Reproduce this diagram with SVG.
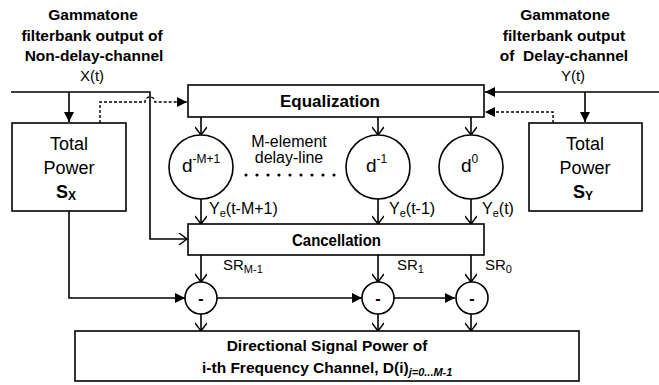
<svg xmlns="http://www.w3.org/2000/svg" width="659" height="385" viewBox="0 0 659 385">
<defs>
<marker id="fa" markerWidth="12" markerHeight="12" refX="10" refY="5" orient="auto" markerUnits="userSpaceOnUse">
<path d="M0,0 L10,5 L0,10 Z" fill="#000"/>
</marker>
<marker id="oa" markerWidth="12" markerHeight="12" refX="9" refY="6" orient="auto" markerUnits="userSpaceOnUse">
<path d="M1,0 L9,6 L1,12" fill="none" stroke="#000" stroke-width="1.4"/>
</marker>
<style>
.box{fill:#fff;stroke:#000;stroke-width:1.6}
.ln{fill:none;stroke:#000;stroke-width:1.6}
.dot{fill:none;stroke:#000;stroke-width:1.4;stroke-dasharray:3,2}
text{font-family:"Liberation Sans",Arial,sans-serif;fill:#000}
.h{font-size:15.5px;font-weight:bold;text-anchor:middle}
.r{font-size:15px}
.tp{font-size:18px;text-anchor:middle}
.b{font-weight:bold}
</style>
</defs>
<rect width="659" height="385" fill="#fff"/>

<g id="heading-left">
<text class="h" x="93" y="20">Gammatone</text>
<text class="h" x="92" y="41">filterbank output of</text>
<text class="h" x="94" y="61">Non-delay-channel</text>
<text class="r" x="92" y="81" text-anchor="middle">X(t)</text>
</g>
<g id="heading-right">
<text class="h" x="565" y="20">Gammatone</text>
<text class="h" x="564" y="41">filterbank output</text>
<text class="h" x="564" y="61" xml:space="preserve">of  Delay-channel</text>
<text class="r" x="573" y="81" text-anchor="middle">Y(t)</text>
</g>

<g id="connectors">
<polyline class="ln" points="11,92 150,92 150,239 187,239" marker-end="url(#oa)"/>
<line class="ln" x1="69" y1="92" x2="69" y2="122" marker-end="url(#fa)"/>
<path class="dot" d="M100,123 V102 H145 A5,5 0 0 1 155,102 H187" marker-end="url(#fa)"/>
<line class="ln" x1="659" y1="92" x2="485" y2="92" marker-end="url(#fa)"/>
<line class="ln" x1="585" y1="92" x2="585" y2="122" marker-end="url(#fa)"/>
<path class="dot" d="M553,123 V112 H485" marker-end="url(#fa)"/>
<line class="ln" x1="201" y1="117" x2="201" y2="135" marker-end="url(#oa)"/>
<line class="ln" x1="378" y1="117" x2="378" y2="135" marker-end="url(#oa)"/>
<line class="ln" x1="471" y1="117" x2="471" y2="135" marker-end="url(#oa)"/>
<line class="ln" x1="201" y1="199" x2="201" y2="224" marker-end="url(#oa)"/>
<line class="ln" x1="378" y1="199" x2="378" y2="224" marker-end="url(#oa)"/>
<line class="ln" x1="471" y1="199" x2="471" y2="224" marker-end="url(#oa)"/>
<line class="ln" x1="201" y1="255" x2="201" y2="282" marker-end="url(#oa)"/>
<line class="ln" x1="378" y1="255" x2="378" y2="282" marker-end="url(#oa)"/>
<line class="ln" x1="471" y1="255" x2="471" y2="282" marker-end="url(#oa)"/>
<polyline class="ln" points="69,211 69,298 185,298" marker-end="url(#fa)"/>
<line class="ln" x1="217" y1="298" x2="362" y2="298" marker-end="url(#fa)"/>
<line class="ln" x1="394" y1="298" x2="455" y2="298" marker-end="url(#fa)"/>
<line class="ln" x1="201" y1="314" x2="201" y2="331" marker-end="url(#oa)"/>
<line class="ln" x1="378" y1="314" x2="378" y2="331" marker-end="url(#oa)"/>
<line class="ln" x1="471" y1="314" x2="471" y2="331" marker-end="url(#oa)"/>
<text x="209" y="214" font-size="16">Y<tspan font-size="11" dy="3">e</tspan><tspan dy="-3">(t-M+1)</tspan></text>
<text x="389" y="214" font-size="16">Y<tspan font-size="11" dy="3">e</tspan><tspan dy="-3">(t-1)</tspan></text>
<text x="482" y="214" font-size="16">Y<tspan font-size="11" dy="3">e</tspan><tspan dy="-3">(t)</tspan></text>
<text x="223" y="270" font-size="15">SR<tspan font-size="11" dy="3">M-1</tspan></text>
<text x="397" y="270" font-size="15">SR<tspan font-size="11" dy="3">1</tspan></text>
<text x="485" y="270" font-size="15">SR<tspan font-size="11" dy="3">0</tspan></text>
</g>

<g id="total-power-x">
<rect class="box" x="12" y="123" width="114" height="88"/>
<text class="tp" x="69" y="150">Total</text>
<text class="tp" x="69" y="174">Power</text>
<text class="tp b" x="66" y="198">S<tspan font-size="12" dy="2">X</tspan></text>
</g>
<g id="total-power-y">
<rect class="box" x="529" y="123" width="113" height="88"/>
<text class="tp" x="585" y="150">Total</text>
<text class="tp" x="585" y="174">Power</text>
<text class="tp b" x="583" y="198">S<tspan font-size="12" dy="2">Y</tspan></text>
</g>
<g id="equalization">
<rect class="box" x="188" y="85" width="296" height="32"/>
<text x="280" y="107" font-size="16" font-weight="bold" textLength="100" lengthAdjust="spacingAndGlyphs">Equalization</text>
</g>
<g id="delay-m1">
<circle class="box" cx="201" cy="167" r="32"/>
<text x="182" y="172" font-size="19">d<tspan font-size="12" dy="-9">-M+1</tspan></text>
</g>
<g id="delay-line-label">
<text x="289" y="147" font-size="16" text-anchor="middle">M-element</text>
<text x="289" y="163" font-size="16" text-anchor="middle">delay-line</text>
<g fill="#000">
<circle cx="246" cy="175" r="1.6"/><circle cx="257" cy="175" r="1.6"/><circle cx="268" cy="175" r="1.6"/>
<circle cx="279" cy="175" r="1.6"/><circle cx="290" cy="175" r="1.6"/><circle cx="301" cy="175" r="1.6"/>
<circle cx="312" cy="175" r="1.6"/><circle cx="323" cy="175" r="1.6"/><circle cx="334" cy="175" r="1.6"/>
</g>
</g>
<g id="delay-1">
<circle class="box" cx="378" cy="167" r="32"/>
<text x="366" y="172" font-size="19">d<tspan font-size="12" dy="-9">-1</tspan></text>
</g>
<g id="delay-0">
<circle class="box" cx="471" cy="167" r="32"/>
<text x="461" y="172" font-size="19">d<tspan font-size="12" dy="-9">0</tspan></text>
</g>
<g id="cancellation">
<rect class="box" x="188" y="224" width="296" height="31"/>
<text x="292" y="246" font-size="16" font-weight="bold" textLength="89" lengthAdjust="spacingAndGlyphs">Cancellation</text>
</g>
<g id="minus-m1">
<circle class="box" cx="201" cy="298" r="16"/>
<text x="201" y="304" font-size="16" font-weight="bold" text-anchor="middle">-</text>
</g>
<g id="minus-1">
<circle class="box" cx="378" cy="298" r="16"/>
<text x="378" y="304" font-size="16" font-weight="bold" text-anchor="middle">-</text>
</g>
<g id="minus-0">
<circle class="box" cx="472" cy="298" r="16"/>
<text x="472" y="304" font-size="16" font-weight="bold" text-anchor="middle">-</text>
</g>
<g id="directional">
<rect class="box" x="75" y="331" width="504" height="50"/>
<text x="327" y="351" font-size="15.5" font-weight="bold" text-anchor="middle">Directional Signal Power of</text>
<text x="202" y="373" font-size="15.5" font-weight="bold">i-th Frequency Channel, D(i)<tspan font-size="11" font-style="italic" dy="3">j=0...M-1</tspan></text>
</g>
</svg>
